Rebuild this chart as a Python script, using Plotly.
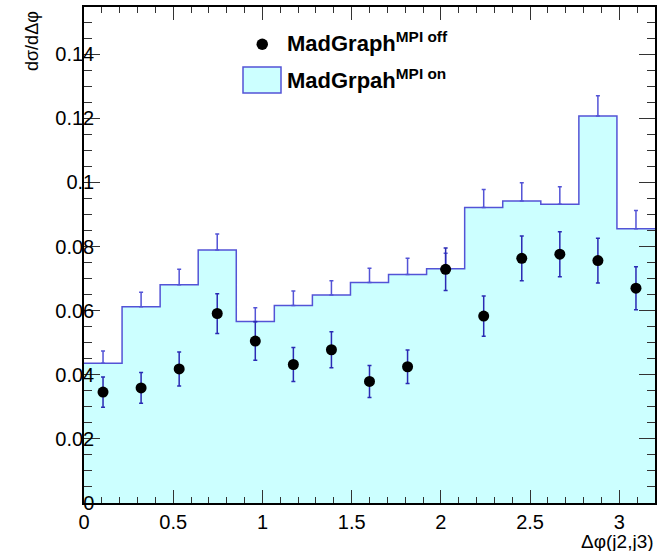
import plotly.graph_objects as go

# ---- data ----
bin_edges = [i * 3.2 / 15 for i in range(16)]
mpi_on = [0.0436, 0.0612, 0.0681, 0.0789, 0.0566, 0.0616, 0.0649, 0.0688,
          0.0713, 0.0731, 0.0922, 0.0942, 0.0932, 0.1207, 0.0855]
mpi_on_err = [0.0038, 0.0045, 0.0048, 0.0050, 0.0043, 0.0045, 0.0044, 0.0044,
              0.0050, 0.0048, 0.0056, 0.0057, 0.0054, 0.0063, 0.0057]
mpi_off = [0.0346, 0.0359, 0.0418, 0.0591, 0.0505, 0.0432, 0.0478, 0.0379,
           0.0425, 0.0729, 0.0583, 0.0763, 0.0776, 0.0756, 0.0670]
mpi_off_err = [0.0047, 0.0048, 0.0053, 0.0062, 0.0060, 0.0053, 0.0056, 0.0050,
               0.0052, 0.0066, 0.0063, 0.0070, 0.0070, 0.0070, 0.0067]
x_ticks = [0, 0.5, 1, 1.5, 2, 2.5, 3]
x_tick_labels = ["0", "0.5", "1", "1.5", "2", "2.5", "3"]
y_ticks = [0, 0.02, 0.04, 0.06, 0.08, 0.1, 0.12, 0.14]
y_tick_labels = ["0", "0.02", "0.04", "0.06", "0.08", "0.1", "0.12", "0.14"]
legend_labels = ["<b>MadGraph<sup>MPI off</sup></b>", "<b>MadGrpah<sup>MPI on</sup></b>"]

centers = [(bin_edges[i] + bin_edges[i + 1]) / 2 for i in range(15)]

FONT = "Liberation Sans, Arial, sans-serif"
LINE_BLUE = "#5353d6"
ERR_BLUE = "#2a2ab4"
FILL = "#ccffff"

W, H = 667, 551
ML, MR, MT, MB = 84, 12, 7, 48
PW, PH = W - ML - MR, H - MT - MB


def px_x(p):
    return (p - ML) / PW


def px_y(p):
    return (H - MB - p) / PH


fig = go.Figure()

# histogram outline + fill (MPI on)
fig.add_trace(go.Scatter(
    x=bin_edges, y=mpi_on + [mpi_on[-1]],
    mode="lines", line=dict(shape="hv", color=LINE_BLUE, width=1.5),
    fill="tozeroy", fillcolor=FILL, showlegend=False,
))
# histogram error bars (upward only)
fig.add_trace(go.Scatter(
    x=centers, y=mpi_on, mode="markers",
    marker=dict(size=1, color="rgba(0,0,0,0)"),
    error_y=dict(type="data", symmetric=False, array=mpi_on_err,
                 arrayminus=[0] * 15, color=LINE_BLUE, thickness=1.5, width=2),
    showlegend=False, hoverinfo="skip",
))
# points (MPI off)
fig.add_trace(go.Scatter(
    x=centers, y=mpi_off, mode="markers",
    marker=dict(size=11, color="black"),
    error_y=dict(type="data", array=mpi_off_err, color=ERR_BLUE,
                 thickness=1.5, width=2),
    showlegend=False,
))

axis_common = dict(
    showline=True, linecolor="black", linewidth=1.5, mirror="allticks",
    ticks="inside", tickcolor="#333333", tickwidth=1.2,
    showgrid=False, zeroline=False, automargin=False,
    tickfont=dict(family=FONT, size=20, color="black"),
)

fig.update_xaxes(
    range=[0, 3.2], tickvals=x_ticks, ticktext=x_tick_labels, ticklen=13,
    minor=dict(ticks="inside", ticklen=6, dtick=0.1, tick0=0,
               tickcolor="#333333", tickwidth=1.2),
    **axis_common,
)
fig.update_yaxes(
    range=[0, 0.1547], tickvals=y_ticks, ticktext=y_tick_labels, ticklen=16,
    minor=dict(ticks="inside", ticklen=8, dtick=0.005, tick0=0,
               tickcolor="#333333", tickwidth=1.2),
    ticklabelstandoff=-16,
    **axis_common,
)

# axis titles
fig.add_annotation(
    text="dσ/dΔφ", xref="paper", yref="paper", x=px_x(32), y=px_y(9),
    xanchor="center", yanchor="top", textangle=-90, showarrow=False,
    font=dict(family=FONT, size=18, color="black"),
)
fig.add_annotation(
    text="Δφ(j2,j3)", xref="paper", yref="paper", x=px_x(656), y=px_y(541),
    xanchor="right", yanchor="middle", showarrow=False,
    font=dict(family=FONT, size=19, color="black"),
)

# legend (drawn by hand)
fig.add_shape(type="circle", xref="paper", yref="paper",
              x0=px_x(256.5), x1=px_x(268), y0=px_y(50), y1=px_y(38.5),
              fillcolor="black", line=dict(color="black", width=0))
fig.add_shape(type="rect", xref="paper", yref="paper",
              x0=px_x(243), x1=px_x(281), y0=px_y(93), y1=px_y(67),
              fillcolor=FILL, line=dict(color=LINE_BLUE, width=1.5))
fig.add_annotation(
    text=legend_labels[0], xref="paper", yref="paper", x=px_x(285), y=px_y(42),
    xanchor="left", yanchor="middle", showarrow=False,
    font=dict(family=FONT, size=22, color="black"),
)
fig.add_annotation(
    text=legend_labels[1], xref="paper", yref="paper", x=px_x(285), y=px_y(79),
    xanchor="left", yanchor="middle", showarrow=False,
    font=dict(family=FONT, size=22, color="black"),
)

fig.update_layout(
    width=W, height=H,
    margin=dict(l=ML, r=MR, t=MT, b=MB),
    paper_bgcolor="white", plot_bgcolor="white",
    showlegend=False,
)

fig.write_html("out.html", config={"displayModeBar": False},
               post_script="document.body.style.margin='0';")
